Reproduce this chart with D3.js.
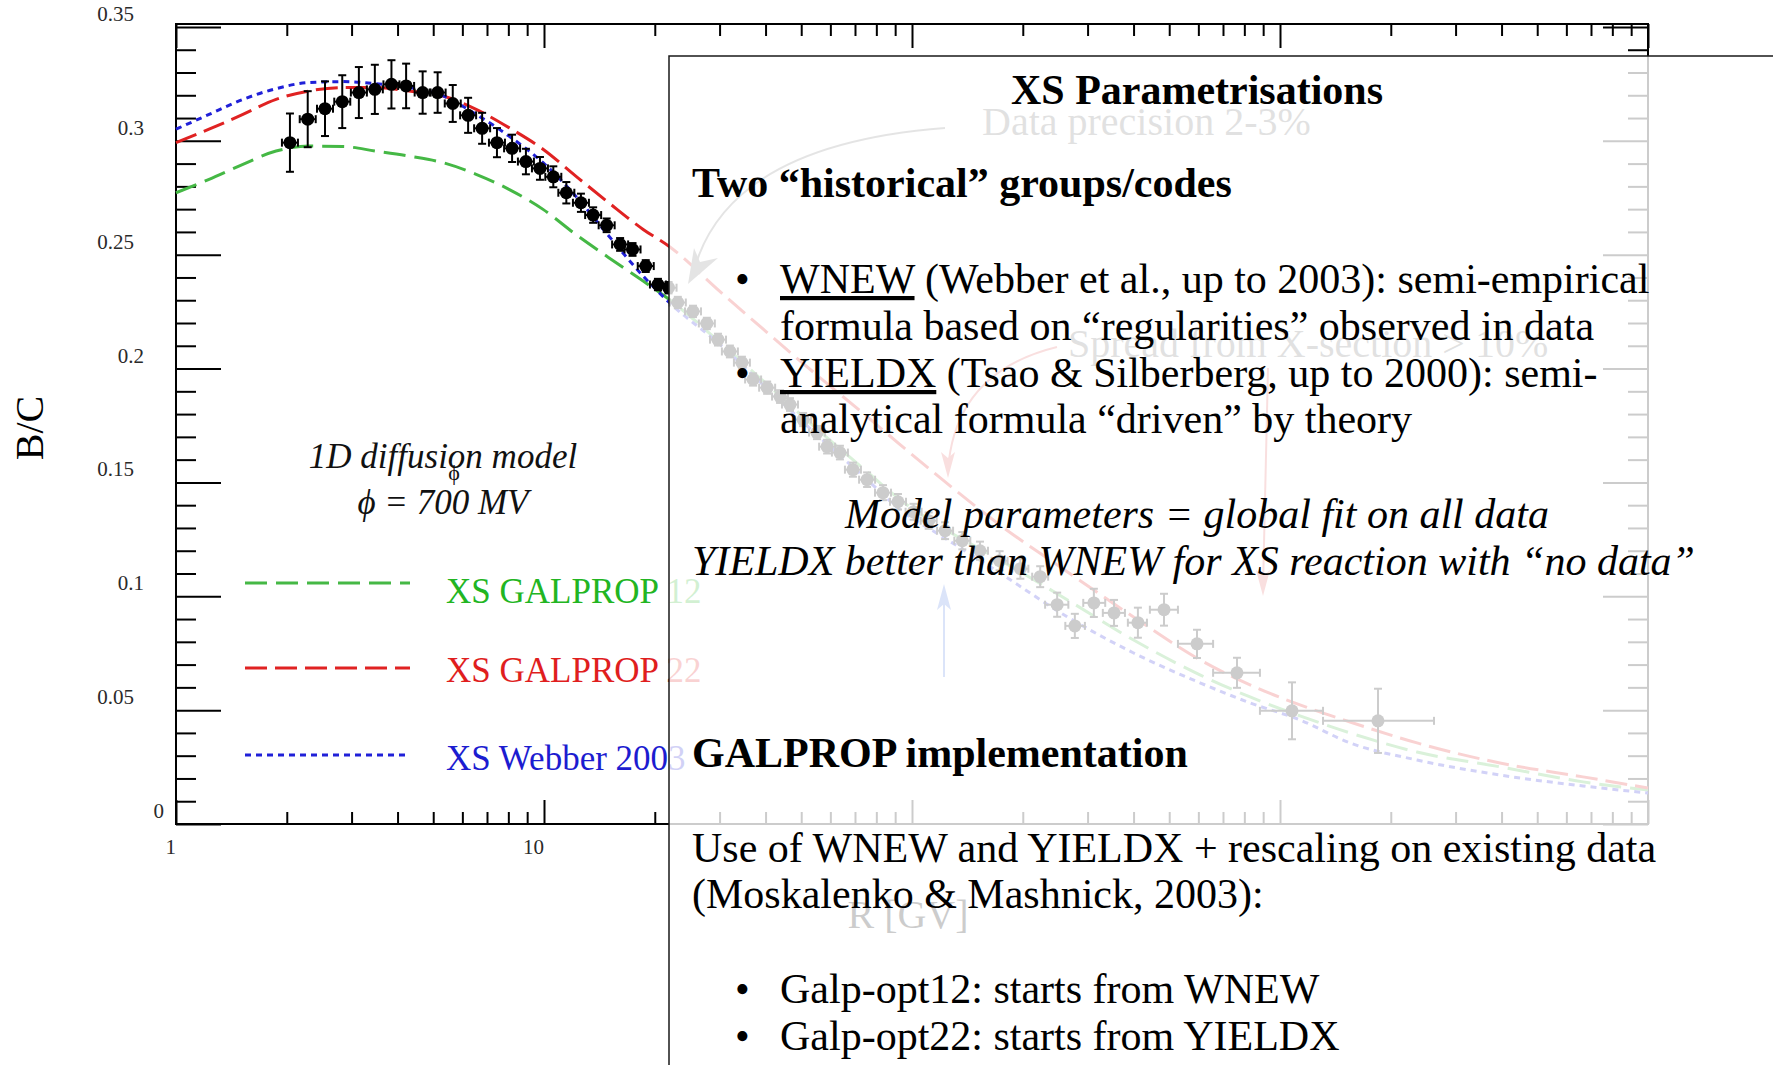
<!DOCTYPE html>
<html>
<head>
<meta charset="utf-8">
<script src="https://cdn.jsdelivr.net/npm/d3@7"></script>
<style>
  body { margin: 0; background: #fff; }
  svg { display: block; font-family: "Liberation Serif", "Times New Roman", serif; }
</style>
</head>
<body>
<svg id="chart" width="1773" height="1065"></svg>
<script>
// ---- B/C measurements: rigidity [GV], ratio, 1-sigma error ----
const dataR = [2.04,2.28,2.54,2.83,3.14,3.47,3.85,4.22,4.68,5.14,5.65,6.22,6.79,7.45,8.19,8.93,9.75,10.6,11.5,12.6,
  13.6,14.8,16.1,17.4,18.9,20.4,21.8,23.1,25.4,27.7,29.7,32.0,34.5,37.0,40.4,43.8,46.6,50.6,55.2,58.8,
  63.7,69.1,75.5,83.4,91.6,101,111,123,137,153,173,197,223,248,277,312,354,411,484,595,764,1078,1846];
const dataBC = [0.2992,0.3095,0.3141,0.3172,0.3212,0.3226,0.3248,0.3241,0.3212,0.3212,0.3164,0.3112,0.3055,0.2992,0.2967,0.2909,0.2879,0.2842,0.2772,0.2728,
  0.2674,0.2629,0.2545,0.2523,0.2450,0.2369,0.2355,0.2290,0.2251,0.2198,0.2127,0.2075,0.2026,0.1952,0.1916,0.1877,0.1842,0.1776,0.1719,0.1657,
  0.1631,0.1556,0.1512,0.1455,0.1415,0.1371,0.1332,0.1288,0.1244,0.1200,0.1156,0.1121,0.1086,0.0963,0.0870,0.0971,0.0927,0.0884,0.0941,0.0791,0.0664,0.0497,0.0453];
const dataErr = [0.0128,0.0123,0.0120,0.0116,0.0112,0.0108,0.0106,0.0098,0.0093,0.0089,0.0081,0.0077,0.0068,0.0064,0.0060,0.0056,0.0050,0.0046,0.0047,0.0040,
  0.0034,0.0030,0.0028,0.0028,0.0026,0.0025,0.0025,0.0025,0.0025,0.0025,0.0026,0.0026,0.0026,0.0027,0.0027,0.0028,0.0028,0.0029,0.0029,0.0030,
  0.0030,0.0031,0.0032,0.0033,0.0034,0.0035,0.0036,0.0037,0.0038,0.0040,0.0042,0.0044,0.0046,0.0053,0.0053,0.0062,0.0057,0.0066,0.0070,0.0062,0.0066,0.0125,0.0141];
// rigidity bin edges of the ten highest-energy points
const wideBinLow  = [230,261,292,330,386,443,528,658,882,1309];
const wideBinHigh = [266,295,335,379,435,528,658,882,1309,2621];

// ---- model curves ----
const curveR = [1,1.23,1.52,1.87,2.3,2.84,3.49,4.3,5.32,6.54,8.03,9.94,12.2,15.0,18.6,21.9,30.1,40.4,56.2,75.5,
  92.8,121,173,264,399,606,829,1133,1550,2357,3961,6658,10000];
const galprop12 = [0.2772,0.2831,0.2897,0.2955,0.2977,0.2975,0.2955,0.2933,0.2904,0.2853,0.2787,0.2699,0.2589,0.2487,0.2384,0.2303,0.2114,0.1930,0.1723,0.1547,
  0.1424,0.1301,0.1160,0.0985,0.0809,0.0655,0.0558,0.0475,0.0400,0.0316,0.0251,0.0185,0.0149];
const galprop22 = [0.2992,0.3051,0.3116,0.3182,0.3219,0.3234,0.3234,0.3219,0.3197,0.3138,0.3058,0.2963,0.2845,0.2728,0.2611,0.2536,0.2338,0.2158,0.1960,0.1789,
  0.1666,0.1512,0.1314,0.1108,0.0910,0.0721,0.0611,0.0523,0.0448,0.0356,0.0268,0.0207,0.0158];
const webber2003 = [0.3051,0.3116,0.3182,0.3229,0.3256,0.3260,0.3251,0.3234,0.3197,0.3116,0.3021,0.2904,0.2757,0.2582,0.2406,0.2290,0.2105,0.1912,0.1697,0.1512,
  0.1380,0.1262,0.1103,0.0910,0.0752,0.0620,0.0532,0.0457,0.0356,0.0281,0.0215,0.0167,0.0136];

// ---- axes ----
const yTickValues = [0,0.05,0.1,0.15,0.2,0.25,0.3,0.35];
const yTickLabels = ["0","0.05","0.1","0.15","0.2","0.25","0.3","0.35"];
const xTickValues = [1,10];
const xTickLabels = ["1","10"];

const legendLabels = ["XS GALPROP 12","XS GALPROP 22","XS Webber 2003"];
const legendColors = ["#22b522","#e01e1e","#1c1cd0"];

const svg = d3.select("#chart");
const x = d3.scaleLog().domain([1, 10000]).range([176, 1648]);
const y = d3.scaleLinear().domain([0, 0.3513]).range([824, 24]);

const plot = svg.append("g");

// tick positions
const xMajor = [1,10,100,1000,10000];
const xMinor = [];
[1,10,100,1000].forEach(d => { for (let m = 2; m <= 9; m++) xMinor.push(d*m); });
const yMajor = d3.range(0, 8).map(i => i*0.05);
const yMinor = d3.range(0, 36).map(i => i*0.01).filter(v => Math.abs(v/0.05 - Math.round(v/0.05)) > 1e-6);

function tickAxis(axis, tr) {
  const g = plot.append("g").attr("transform", tr).call(axis);
  g.select(".domain").remove();
  g.selectAll("text").remove();
  g.selectAll("line").attr("stroke", "#000").attr("stroke-width", 2);
}
tickAxis(d3.axisTop(x).tickValues(xMajor).tickSize(24), "translate(0,824)");
tickAxis(d3.axisTop(x).tickValues(xMinor).tickSize(12), "translate(0,824)");
tickAxis(d3.axisBottom(x).tickValues(xMajor).tickSize(24), "translate(0,24)");
tickAxis(d3.axisBottom(x).tickValues(xMinor).tickSize(12), "translate(0,24)");
tickAxis(d3.axisRight(y).tickValues(yMajor).tickSize(45), "translate(176,0)");
tickAxis(d3.axisRight(y).tickValues(yMinor).tickSize(20), "translate(176,0)");
tickAxis(d3.axisLeft(y).tickValues(yMajor).tickSize(45), "translate(1648,0)");
tickAxis(d3.axisLeft(y).tickValues(yMinor).tickSize(20), "translate(1648,0)");

// frame
plot.append("rect").attr("x", x(1)).attr("y", y(0.3513))
  .attr("width", x(10000) - x(1)).attr("height", y(0) - y(0.3513))
  .attr("fill", "none").attr("stroke", "#000").attr("stroke-width", 2);

// tick labels
plot.selectAll(".ylab").data(yTickValues).enter().append("text")
  .attr("x", (d, i) => 134 + (4 - yTickLabels[i].length) * 10)
  .attr("y", d => y(d) - 6)
  .attr("text-anchor", "end").attr("font-size", 21).attr("fill", "#2a2a2a")
  .text((d, i) => yTickLabels[i]);
plot.selectAll(".xlab").data(xTickValues).enter().append("text")
  .attr("x", d => x(d)).attr("y", 854)
  .attr("text-anchor", "end").attr("font-size", 21).attr("fill", "#2a2a2a")
  .text((d, i) => xTickLabels[i]);

// axis titles
plot.append("text").attr("transform", "translate(43,428) rotate(-90)")
  .attr("text-anchor", "middle").attr("font-size", 40).attr("fill", "#000").text("B/C");
plot.append("text").attr("x", 908).attr("y", 928)
  .attr("text-anchor", "middle").attr("font-size", 40).attr("fill", "#000").text("R [GV]");

// model curves
const line = d3.line().x(d => x(d[0])).y(d => y(d[1])).curve(d3.curveMonotoneX);
const series = [
  {vals: galprop12, color: "#45b845", dash: "22,9"},
  {vals: galprop22, color: "#e02222", dash: "22,8"},
  {vals: webber2003, color: "#2020d8", dash: "6,5"}
];
series.forEach(s => {
  plot.append("path").attr("d", line(curveR.map((r, i) => [r, s.vals[i]])))
    .attr("fill", "none").attr("stroke", s.color).attr("stroke-width", 3)
    .attr("stroke-dasharray", s.dash);
});

// data points with error bars
const pts = dataR.map((r, i) => {
  const k = i - (dataR.length - wideBinLow.length);
  return {r: r, v: dataBC[i], e: dataErr[i],
    lo: k >= 0 ? wideBinLow[k] : null, hi: k >= 0 ? wideBinHigh[k] : null};
});
const pg = plot.append("g").attr("stroke", "#000").attr("stroke-width", 2);
pts.forEach(p => {
  const cx = x(p.r), cy = y(p.v);
  const y1 = y(p.v + p.e), y2 = y(p.v - p.e);
  const x1 = p.lo ? x(p.lo) : cx - 8, x2 = p.hi ? x(p.hi) : cx + 8;
  pg.append("line").attr("x1", cx).attr("x2", cx).attr("y1", y1).attr("y2", y2);
  pg.append("line").attr("x1", cx - 4).attr("x2", cx + 4).attr("y1", y1).attr("y2", y1);
  pg.append("line").attr("x1", cx - 4).attr("x2", cx + 4).attr("y1", y2).attr("y2", y2);
  pg.append("line").attr("x1", x1).attr("x2", x2).attr("y1", cy).attr("y2", cy);
  pg.append("line").attr("x1", x1).attr("x2", x1).attr("y1", cy - 4).attr("y2", cy + 4);
  pg.append("line").attr("x1", x2).attr("x2", x2).attr("y1", cy - 4).attr("y2", cy + 4);
  pg.append("circle").attr("cx", cx).attr("cy", cy).attr("r", 6.5).attr("fill", "#000").attr("stroke", "none");
});

// model description and legend
plot.append("text").attr("x", 443).attr("y", 468).attr("text-anchor", "middle")
  .attr("font-size", 35).attr("font-style", "italic").attr("fill", "#111").text("1D diffusion model");
plot.append("text").attr("x", 454).attr("y", 480).attr("text-anchor", "middle")
  .attr("font-size", 22).attr("fill", "#111").text("ϕ");
plot.append("text").attr("x", 443).attr("y", 514).attr("text-anchor", "middle")
  .attr("font-size", 35).attr("font-style", "italic").attr("fill", "#111").text("ϕ = 700 MV");

const legendLineY = [583, 668, 755];
const legendTextY = [603, 682, 770];
legendLabels.forEach((lab, i) => {
  plot.append("line").attr("x1", 245).attr("x2", i === 2 ? 405 : 410)
    .attr("y1", legendLineY[i]).attr("y2", legendLineY[i])
    .attr("stroke", series[i].color).attr("stroke-width", 3)
    .attr("stroke-dasharray", series[i].dash);
  plot.append("text").attr("x", 446).attr("y", legendTextY[i])
    .attr("font-size", 35).attr("fill", legendColors[i]).text(lab);
});

// annotations on the plot
const ann = plot.append("g").attr("fill", "none");
ann.append("text").attr("x", 982).attr("y", 135).attr("font-size", 40)
  .attr("fill", "#6a6a6a").text("Data precision 2-3%");
ann.append("path").attr("d", "M945,128 Q722,145 692,278").attr("stroke", "#7a7a7a").attr("stroke-width", 2);
ann.append("path").attr("d", "M688,284 L694,248 L700,262 L718,258 Z").attr("fill", "#7a7a7a");
ann.append("text").attr("x", 1068).attr("y", 357).attr("font-size", 40)
  .attr("fill", "#6a6a6a").text("Spread from X-section > 10%");
ann.append("path").attr("d", "M1057,347 Q955,372 948,470").attr("stroke", "#e06060").attr("stroke-width", 2);
ann.append("path").attr("d", "M948,478 L941,452 L948,458 L955,452 Z").attr("fill", "#e06060");
ann.append("path").attr("d", "M1268,368 L1263,588").attr("stroke", "#e06060").attr("stroke-width", 2);
ann.append("path").attr("d", "M1263,596 L1256,570 L1263,576 L1270,570 Z").attr("fill", "#e06060");
ann.append("path").attr("d", "M944,677 L944,592").attr("stroke", "#4d78e0").attr("stroke-width", 2);
ann.append("path").attr("d", "M944,584 L937,610 L944,604 L951,610 Z").attr("fill", "#4d78e0");

// ---- text panel laid over the right part of the figure ----
svg.append("rect").attr("x", 669).attr("y", 56).attr("width", 1200).attr("height", 1100)
  .attr("fill", "#fff").attr("fill-opacity", 0.8)
  .attr("stroke", "#1a1a1a").attr("stroke-width", 1.5);

const panel = svg.append("g").attr("font-size", 42).attr("fill", "#000");
panel.append("text").attr("x", 1197).attr("y", 104).attr("text-anchor", "middle")
  .attr("font-weight", "bold").text("XS Parametrisations");
panel.append("text").attr("x", 692).attr("y", 197).attr("font-weight", "bold")
  .text("Two “historical” groups/codes");

function bulletLine(yPos, under, rest) {
  panel.append("text").attr("x", 735).attr("y", yPos).text("•");
  const t = panel.append("text").attr("x", 780).attr("y", yPos);
  t.append("tspan").attr("text-decoration", "underline").text(under);
  t.append("tspan").text(rest);
}
bulletLine(293, "WNEW", " (Webber et al., up to 2003): semi-empirical");
panel.append("text").attr("x", 780).attr("y", 340).text("formula based on “regularities” observed in data");
bulletLine(387, "YIELDX", " (Tsao & Silberberg, up to 2000): semi-");
panel.append("text").attr("x", 780).attr("y", 433).text("analytical formula “driven” by theory");

panel.append("text").attr("x", 1197).attr("y", 528).attr("text-anchor", "middle")
  .attr("font-style", "italic").text("Model parameters = global fit on all data");
panel.append("text").attr("x", 692).attr("y", 575)
  .attr("font-style", "italic").text("YIELDX better than WNEW for XS reaction with “no data”");

panel.append("text").attr("x", 692).attr("y", 767).attr("font-weight", "bold")
  .text("GALPROP implementation");
panel.append("text").attr("x", 692).attr("y", 862)
  .text("Use of WNEW and YIELDX + rescaling on existing data");
panel.append("text").attr("x", 692).attr("y", 908).text("(Moskalenko & Mashnick, 2003):");
panel.append("text").attr("x", 735).attr("y", 1003).text("•");
panel.append("text").attr("x", 780).attr("y", 1003).text("Galp-opt12: starts from WNEW");
panel.append("text").attr("x", 735).attr("y", 1050).text("•");
panel.append("text").attr("x", 780).attr("y", 1050).text("Galp-opt22: starts from YIELDX");
</script>
</body>
</html>
